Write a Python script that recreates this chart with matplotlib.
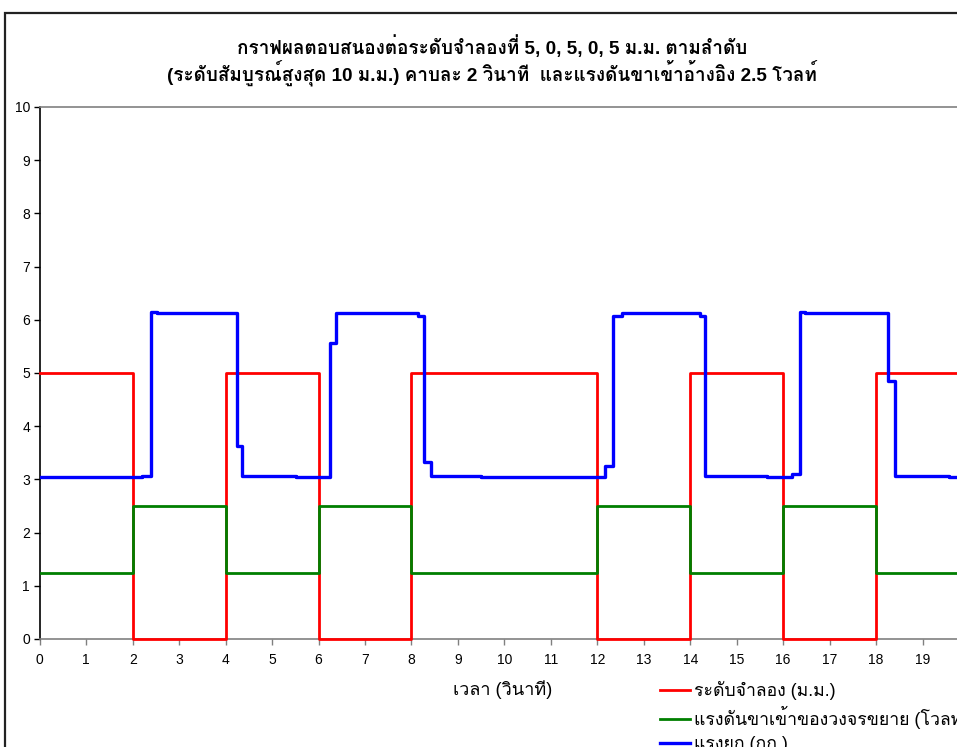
import matplotlib
matplotlib.use("Agg")
import matplotlib.pyplot as plt
from matplotlib.patches import Rectangle

plt.rcParams["font.family"] = ["Liberation Sans", "Loma", "DejaVu Sans"]

# Reference level (mm) and amplifier input voltage (V), stepped every 2 s or so
step_times = [0, 2, 4, 6, 8, 12, 14, 16, 18, 20]
level_mm = [5, 0, 5, 0, 5, 0, 5, 0, 5, 5]
amp_volt = [1.25, 2.5, 1.25, 2.5, 1.25, 2.5, 1.25, 2.5, 1.25, 1.25]

# Lift force (kg), sampled as a staircase
force_times = [0, 2.19, 2.39, 2.52, 4.24, 4.35, 5.51, 6.25, 6.37, 8.15, 8.27,
               8.41, 9.50, 12.16, 12.33, 12.53, 14.21, 14.32, 15.65, 16.19,
               16.37, 16.47, 18.26, 18.41, 19.57, 20]
force_kg = [3.04, 3.06, 6.15, 6.13, 3.63, 3.06, 3.04, 5.57, 6.13, 6.08, 3.33,
            3.06, 3.04, 3.25, 6.08, 6.13, 6.08, 3.06, 3.04, 3.10,
            6.15, 6.13, 4.85, 3.06, 3.04, 3.04]

labels = ["ระดับจำลอง (ม.ม.)", "แรงดันขาเข้าของวงจรขยาย (โวลท์)", "แรงยก (กก.)"]
title = ("กราฟผลตอบสนองต่อระดับจำลองที่ 5, 0, 5, 0, 5 ม.ม. ตามลำดับ\n"
         "(ระดับสัมบูรณ์สูงสุด 10 ม.ม.) คาบละ 2 วินาที  และแรงดันขาเข้าอ้างอิง 2.5 โวลท์")
xlabel = "เวลา (วินาที)"
xticks = list(range(0, 20))
yticks = list(range(0, 11))

W, H = 957, 747
fig = plt.figure(figsize=(W / 100, H / 100), dpi=100)

# chart-area frame
fig.patches.append(Rectangle((5 / W, -0.1), 1.2, (H - 13) / H + 0.1,
                             transform=fig.transFigure, fill=False,
                             edgecolor="#222222", linewidth=1.6, clip_on=False))

ax = fig.add_axes([39.8 / W, 108 / H, 929.2 / W, 532 / H])
ax.set_xlim(0, 20)
ax.set_ylim(0, 10)

l1, = ax.plot(step_times, level_mm, drawstyle="steps-post", color="#ff0000",
              lw=2.0, label=labels[0], zorder=4, clip_on=False)
l2, = ax.plot(step_times, amp_volt, drawstyle="steps-post", color="#007f00",
              lw=2.0, label=labels[1], zorder=4)
l3, = ax.plot(force_times, force_kg, drawstyle="steps-post", color="#0000ff",
              lw=2.4, label=labels[2], zorder=5)

ax.set_xticks(xticks)
ax.set_yticks(yticks)
ax.tick_params(axis="y", direction="out", length=4, width=1, color="black",
               labelsize=10, pad=3)
ax.tick_params(axis="x", direction="out", length=4, width=1, color="#808080",
               labelsize=10, pad=6)
ax.spines["left"].set_color("black")
ax.spines["bottom"].set_color("#808080")
ax.spines["top"].set_color("#808080")
ax.spines["right"].set_visible(False)
for s in ax.spines.values():
    s.set_linewidth(1.2)

fig.text(492 / W, 1 - 60.5 / H, title, ha="center", va="center",
         fontsize=13.6, fontweight="bold", linespacing=1.08)
fig.text(503 / W, 1 - 690 / H, xlabel, ha="center", va="center", fontsize=13)

fig.legend(handles=[l1, l2, l3], loc="upper left",
           bbox_to_anchor=(660 / W, 1 - 681 / H), frameon=False,
           fontsize=12.7, handlelength=1.7, handletextpad=0.2,
           labelspacing=0.36, borderaxespad=0, borderpad=0)

fig.savefig("out.png", dpi=100)
